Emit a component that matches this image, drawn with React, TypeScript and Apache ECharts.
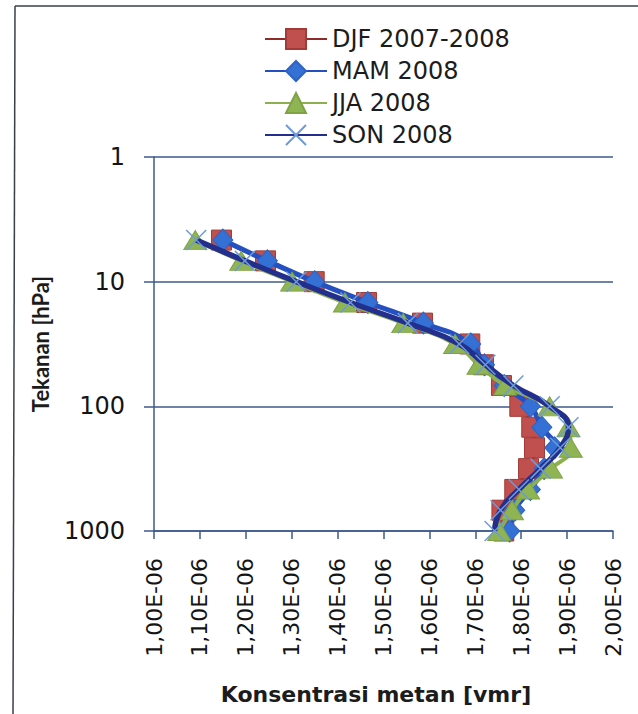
import React, { useEffect, useRef } from "react";
import * as echarts from "echarts";

// Pressure levels (hPa) of the seasonal methane profiles, top of atmosphere first
const pressureLevels = [4.64, 6.81, 10, 14.7, 21.5, 31.6, 46.4, 68.1, 100, 147, 215, 316, 464, 681, 1000];

// Seasonal mean methane mixing ratio (vmr) at each pressure level
const djf = [1.147e-6, 1.243e-6, 1.349e-6, 1.463e-6, 1.585e-6, 1.688e-6, 1.718e-6, 1.757e-6, 1.797e-6, 1.823e-6, 1.829e-6, 1.816e-6, 1.786e-6, 1.758e-6, 1.762e-6];
const mam = [1.15e-6, 1.247e-6, 1.35e-6, 1.466e-6, 1.587e-6, 1.69e-6, 1.72e-6, 1.763e-6, 1.82e-6, 1.845e-6, 1.873e-6, 1.85e-6, 1.82e-6, 1.786e-6, 1.775e-6];
const jja = [1.09e-6, 1.19e-6, 1.301e-6, 1.416e-6, 1.543e-6, 1.656e-6, 1.707e-6, 1.765e-6, 1.862e-6, 1.903e-6, 1.908e-6, 1.865e-6, 1.815e-6, 1.78e-6, 1.752e-6];
const son = [1.092e-6, 1.198e-6, 1.31e-6, 1.428e-6, 1.553e-6, 1.665e-6, 1.722e-6, 1.783e-6, 1.862e-6, 1.903e-6, 1.885e-6, 1.842e-6, 1.795e-6, 1.755e-6, 1.742e-6];

const seriesNames = ["DJF 2007-2008", "MAM 2008", "JJA 2008", "SON 2008"];

// Axis ticks
const pressureTicks = [1, 10, 100, 1000];
const vmrMin = 1.0e-6;
const vmrMax = 2.0e-6;
const vmrStep = 0.1e-6;

const xAxisTitle = "Konsentrasi metan [vmr]";
const yAxisTitle = "Tekanan [hPa]";

const crossSymbol = "path://M0,0L10,10M10,0L0,10";
const axisBlue = "#3D5A8C";

function toPairs(values: number[]) {
  return pressureLevels.map((p, i) => [values[i], p]);
}

function formatVmr(v: number) {
  return (v * 1e6).toFixed(2).replace(".", ",") + "E-06";
}

export default function App() {
  const ref = useRef<HTMLDivElement>(null);

  useEffect(() => {
    if (!ref.current) return;
    const chart = echarts.init(ref.current, undefined, { renderer: "svg" });

    const option = {
      animation: false,
      backgroundColor: "#ffffff",
      textStyle: { fontFamily: "DejaVu Sans" },
      graphic: [
        { type: "line", shape: { x1: 15, y1: 6, x2: 638, y2: 6 }, style: { stroke: "#3a3f4a", lineWidth: 1.5 } },
        { type: "line", shape: { x1: 15, y1: 6, x2: 13, y2: 714 }, style: { stroke: "#3a3f4a", lineWidth: 1.5 } },
      ],
      legend: {
        orient: "vertical",
        left: 259,
        top: 22,
        itemWidth: 62,
        itemHeight: 25,
        itemGap: 8,
        data: seriesNames,
        textStyle: { fontFamily: "DejaVu Sans", fontSize: 24, color: "#1c1c1c" },
      },
      grid: { left: 154, top: 157, width: 459, height: 374, containLabel: false },
      xAxis: {
        type: "value",
        min: vmrMin,
        max: vmrMax,
        interval: vmrStep,
        position: "bottom",
        name: xAxisTitle,
        nameLocation: "middle",
        nameGap: 152,
        nameTextStyle: {
          fontFamily: "DejaVu Sans",
          fontWeight: "bold",
          fontSize: 22,
          color: "#1c1c1c",
          padding: [0, 15, 0, 0],
        },
        axisLine: { onZero: false, lineStyle: { color: axisBlue, width: 1.5 } },
        axisTick: { show: true, length: 8, inside: false, lineStyle: { color: axisBlue, width: 1.5 } },
        axisLabel: {
          rotate: 90,
          margin: 27,
          fontFamily: "DejaVu Sans",
          fontSize: 22,
          color: "#141414",
          formatter: (v: number) => formatVmr(v),
        },
        splitLine: { show: false },
      },
      yAxis: {
        type: "log",
        logBase: 10,
        min: pressureTicks[0],
        max: pressureTicks[pressureTicks.length - 1],
        inverse: true,
        name: yAxisTitle,
        nameLocation: "middle",
        nameRotate: 90,
        nameGap: 103,
        nameTextStyle: { fontFamily: "Lato", fontWeight: "bold", fontSize: 22, color: "#1c1c1c" },
        axisLine: { show: true, lineStyle: { color: axisBlue, width: 1.5 } },
        axisTick: { show: true, length: 10, inside: false, lineStyle: { color: axisBlue, width: 1.5 } },
        axisLabel: {
          margin: 29,
          fontFamily: "DejaVu Sans",
          fontSize: 24,
          color: "#141414",
          formatter: (v: number) => String(Math.round(v)),
        },
        splitLine: { show: true, lineStyle: { color: axisBlue, width: 1.5 } },
        minorTick: { show: false },
      },
      series: [
        {
          name: seriesNames[0],
          type: "line",
          smooth: true,
          data: toPairs(djf),
          symbol: "rect",
          symbolSize: 20,
          lineStyle: { color: "#8E2B2B", width: 3 },
          itemStyle: { color: "#C0504D", borderColor: "#A33A37", borderWidth: 1 },
          z: 2,
        },
        {
          name: seriesNames[1],
          type: "line",
          smooth: true,
          data: toPairs(mam),
          symbol: "diamond",
          symbolSize: [20, 22],
          lineStyle: { color: "#2450C2", width: 5 },
          itemStyle: { color: "#3570D4", borderColor: "#2F63C4", borderWidth: 1 },
          z: 3,
        },
        {
          name: seriesNames[2],
          type: "line",
          smooth: true,
          data: toPairs(jja),
          symbol: "triangle",
          symbolSize: [23, 19],
          lineStyle: { color: "#8DB04E", width: 4 },
          itemStyle: { color: "#8FB453", borderColor: "#7FA344", borderWidth: 1 },
          z: 4,
        },
        {
          name: seriesNames[3],
          type: "line",
          smooth: true,
          data: toPairs(son),
          symbol: crossSymbol,
          symbolSize: 20,
          lineStyle: { color: "#232F8C", width: 5.5 },
          itemStyle: { color: "rgba(0,0,0,0)", borderColor: "#6E9BD8", borderWidth: 1.5 },
          z: 5,
        },
      ],
    };

    chart.setOption(option as any);
    return () => chart.dispose();
  }, []);

  return (
    <div
      ref={ref}
      style={{ position: "absolute", left: 0, top: 0, width: 638, height: 714, background: "#fff" }}
    />
  );
}
